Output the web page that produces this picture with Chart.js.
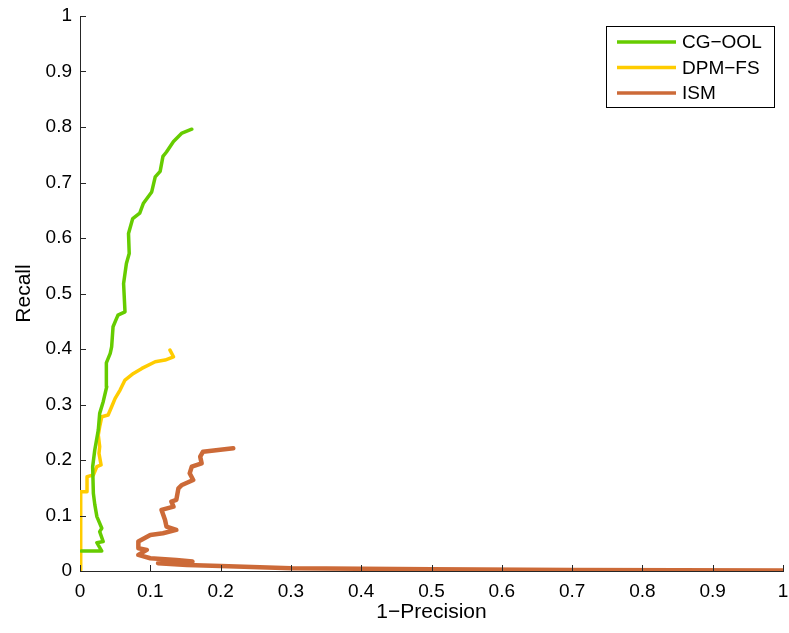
<!DOCTYPE html>
<html>
<head>
<meta charset="utf-8">
<script src="https://cdn.jsdelivr.net/npm/chart.js@4.4.0/dist/chart.umd.min.js"></script>
<style>
html,body{margin:0;padding:0;background:#fff;}
#wrap{width:789px;height:633px;}
</style>
</head>
<body>
<div id="wrap"><canvas id="c" width="789" height="633"></canvas></div>
<script>
const seriesNames = ["CG\u2212OOL", "DPM\u2212FS", "ISM"];
const tickValues = [0,0.1,0.2,0.3,0.4,0.5,0.6,0.7,0.8,0.9,1];
const tickLabels = ["0","0.1","0.2","0.3","0.4","0.5","0.6","0.7","0.8","0.9","1"];

// CG-OOL: [1-precision, recall]
const cgX = [0.002,0.031,0.024,0.033,0.028,0.031,0.024,0.021,0.019,0.018,0.021,0.026,0.028,0.033,0.038,0.038,0.037,0.043,0.045,0.047,0.054,0.064,0.062,0.066,0.070,0.069,0.075,0.085,0.090,0.102,0.107,0.114,0.118,0.123,0.133,0.145,0.159];
const cgY = [0.036,0.036,0.051,0.053,0.071,0.077,0.098,0.120,0.140,0.188,0.218,0.254,0.284,0.305,0.332,0.360,0.375,0.392,0.404,0.440,0.461,0.467,0.518,0.554,0.572,0.608,0.635,0.645,0.662,0.683,0.710,0.720,0.747,0.755,0.774,0.789,0.796];

// DPM-FS
const dpmX = [0.001,0.001,0.010,0.010,0.019,0.024,0.030,0.027,0.028,0.026,0.028,0.031,0.040,0.045,0.050,0.057,0.064,0.076,0.088,0.107,0.121,0.133,0.128];
const dpmY = [0.002,0.143,0.143,0.170,0.173,0.188,0.191,0.212,0.224,0.245,0.260,0.278,0.281,0.296,0.311,0.326,0.344,0.356,0.365,0.377,0.380,0.386,0.398];

// ISM
const ismX = [1.000,0.700,0.500,0.300,0.200,0.152,0.111,0.160,0.137,0.100,0.083,0.095,0.083,0.083,0.100,0.118,0.137,0.123,0.121,0.116,0.133,0.130,0.137,0.140,0.145,0.161,0.156,0.159,0.173,0.171,0.175,0.218];
const ismY = [0.001,0.002,0.003,0.005,0.009,0.011,0.014,0.017,0.020,0.023,0.029,0.038,0.041,0.053,0.065,0.068,0.074,0.080,0.092,0.110,0.116,0.125,0.128,0.149,0.155,0.164,0.176,0.188,0.194,0.206,0.215,0.221];

const colors = ["rgb(102,204,0)", "rgb(255,204,0)", "rgb(204,106,56)"];
const widths = [3.5, 3.5, 4.5];

function pts(xs, ys){ return xs.map((x,i)=>({x:x, y:ys[i]})); }
const allData = [pts(cgX,cgY), pts(dpmX,dpmY), pts(ismX,ismY)];

const FONT = "'Liberation Sans', Arial, Helvetica, sans-serif";

const innerTicks = {
  id:'innerTicks',
  afterDraw(chart){
    const ctx = chart.ctx, xs = chart.scales.x, ys = chart.scales.y, a = chart.chartArea;
    ctx.save();
    ctx.strokeStyle = '#262626'; ctx.lineWidth = 1;
    ctx.beginPath();
    tickValues.forEach(v=>{
      const px = Math.round(xs.getPixelForValue(v))+0.5;
      ctx.moveTo(px, a.bottom); ctx.lineTo(px, a.bottom-6);
      const py = Math.round(ys.getPixelForValue(v))+0.5;
      ctx.moveTo(a.left, py); ctx.lineTo(a.left+6, py);
    });
    ctx.stroke();
    ctx.restore();
  }
};

const boxLegend = {
  id:'boxLegend',
  afterDraw(chart){
    const ctx = chart.ctx;
    const x0 = 606, y0 = 26, w = 168, h = 81;
    ctx.save();
    ctx.fillStyle = '#fff';
    ctx.fillRect(x0, y0, w, h);
    ctx.strokeStyle = '#000'; ctx.lineWidth = 1;
    ctx.strokeRect(x0+0.5, y0+0.5, w, h);
    ctx.font = "19px " + FONT;
    ctx.textBaseline = 'middle';
    ctx.fillStyle = '#000';
    chart.data.datasets.forEach((ds,i)=>{
      const y = y0 + 16 + i*25.5;
      ctx.strokeStyle = ds.borderColor; ctx.lineWidth = 3.5;
      ctx.beginPath(); ctx.moveTo(617, y); ctx.lineTo(676, y); ctx.stroke();
      ctx.fillText(ds.label, 682, y+1);
    });
    ctx.restore();
  }
};

new Chart(document.getElementById('c'), {
  type:'scatter',
  data:{
    datasets: seriesNames.map((n,i)=>({
      label:n, data:allData[i], showLine:true, borderColor:colors[i], backgroundColor:colors[i],
      borderWidth:widths[i], pointRadius:0, tension:0, borderJoinStyle:'round', borderCapStyle:'round'
    }))
  },
  options:{
    responsive:false, animation:false, devicePixelRatio:1,
    layout:{padding:{left:0, top:16, right:6, bottom:0}},
    plugins:{legend:{display:false}, tooltip:{enabled:false}},
    scales:{
      x:{
        type:'linear', min:0, max:1,
        afterBuildTicks(s){ s.ticks = tickValues.map(v=>({value:v})); },
        afterFit(s){ s.height = 62; s.paddingLeft = 0; s.paddingRight = 0; },
        grid:{display:true, drawOnChartArea:false, drawTicks:false},
        border:{display:true, color:'#262626', width:1},
        ticks:{padding:9, color:'#000', font:{family:FONT, size:19},
          callback:(v,i)=>tickLabels[i], maxRotation:0, autoSkip:false},
        title:{display:true, text:'1\u2212Precision', color:'#000', font:{family:FONT, size:21}, padding:{top:0,bottom:8}}
      },
      y:{
        type:'linear', min:0, max:1,
        afterBuildTicks(s){ s.ticks = tickValues.map(v=>({value:v})); },
        afterFit(s){ s.width = 80; s.paddingTop = 0; s.paddingBottom = 0; },
        grid:{display:true, drawOnChartArea:false, drawTicks:false},
        border:{display:true, color:'#262626', width:1},
        ticks:{padding:8, color:'#000', font:{family:FONT, size:19},
          callback:(v,i)=>tickLabels[i], autoSkip:false},
        title:{display:true, text:'Recall', color:'#000', font:{family:FONT, size:21}, padding:{top:12,bottom:0}}
      }
    }
  },
  plugins:[innerTicks, boxLegend]
});
</script>
</body>
</html>
